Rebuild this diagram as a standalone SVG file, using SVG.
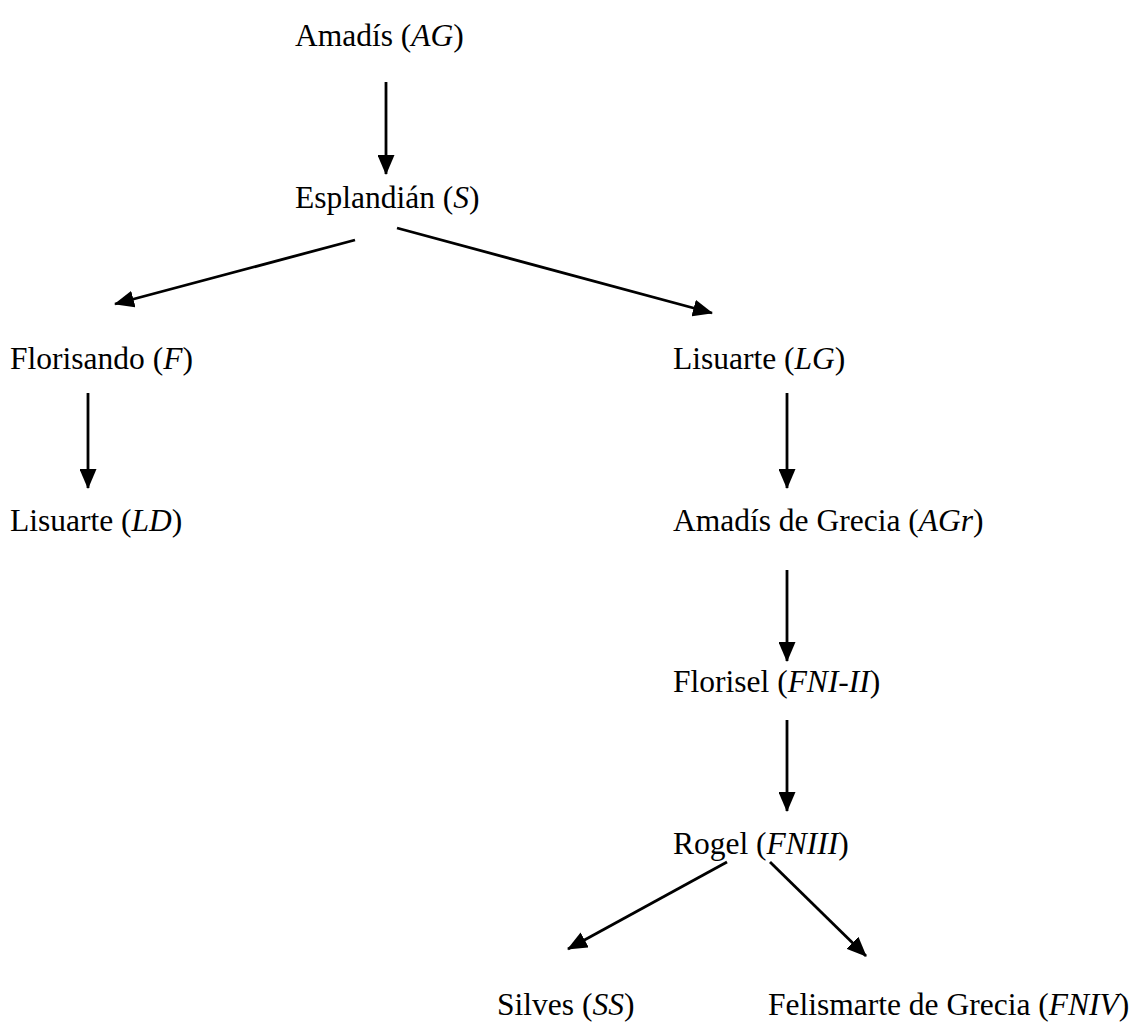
<svg xmlns="http://www.w3.org/2000/svg" width="1139" height="1029" viewBox="0 0 1139 1029">
<style>
text{font-family:"Liberation Serif","Times New Roman",serif;font-size:31.5px;fill:#000}
.i{font-style:italic}
.c line{stroke:#000;stroke-width:2.8;marker-end:url(#ah)}
</style>
<defs>
<marker id="ah" markerUnits="userSpaceOnUse" viewBox="0 0 20 17" refX="19" refY="8.5" markerWidth="20" markerHeight="17" orient="auto">
<path d="M0,0 L20,8.5 L0,17 Z" fill="#000"/>
</marker>
</defs>
<rect width="1139" height="1029" fill="#fff"/>
<g id="n-ag"><text x="295" y="46">Amadís (<tspan class="i">AG</tspan>)</text></g>
<g id="n-s"><text x="295" y="208">Esplandián (<tspan class="i">S</tspan>)</text></g>
<g id="n-f"><text x="10" y="369">Florisando (<tspan class="i">F</tspan>)</text></g>
<g id="n-lg"><text x="673" y="369">Lisuarte (<tspan class="i">LG</tspan>)</text></g>
<g id="n-ld"><text x="10" y="531">Lisuarte (<tspan class="i">LD</tspan>)</text></g>
<g id="n-agr"><text x="673" y="531">Amadís de Grecia (<tspan class="i">AGr</tspan>)</text></g>
<g id="n-fni"><text x="673" y="692">Florisel (<tspan class="i">FNI-II</tspan>)</text></g>
<g id="n-fniii"><text x="673" y="854">Rogel (<tspan class="i">FNIII</tspan>)</text></g>
<g id="n-ss"><text x="497" y="1015">Silves (<tspan class="i">SS</tspan>)</text></g>
<g id="n-fniv"><text x="768" y="1015">Felismarte de Grecia (<tspan class="i">FNIV</tspan>)</text></g>
<g id="connectors" class="c">
<line x1="386" y1="82" x2="386" y2="174"/>
<line x1="355" y1="240" x2="115" y2="304"/>
<line x1="397" y1="228" x2="712" y2="313"/>
<line x1="88" y1="393" x2="88" y2="488"/>
<line x1="787" y1="393" x2="787" y2="488"/>
<line x1="787" y1="570" x2="787" y2="661"/>
<line x1="787" y1="720" x2="787" y2="811"/>
<line x1="727" y1="862" x2="568" y2="949"/>
<line x1="770" y1="862" x2="866" y2="956"/>
</g>
</svg>
